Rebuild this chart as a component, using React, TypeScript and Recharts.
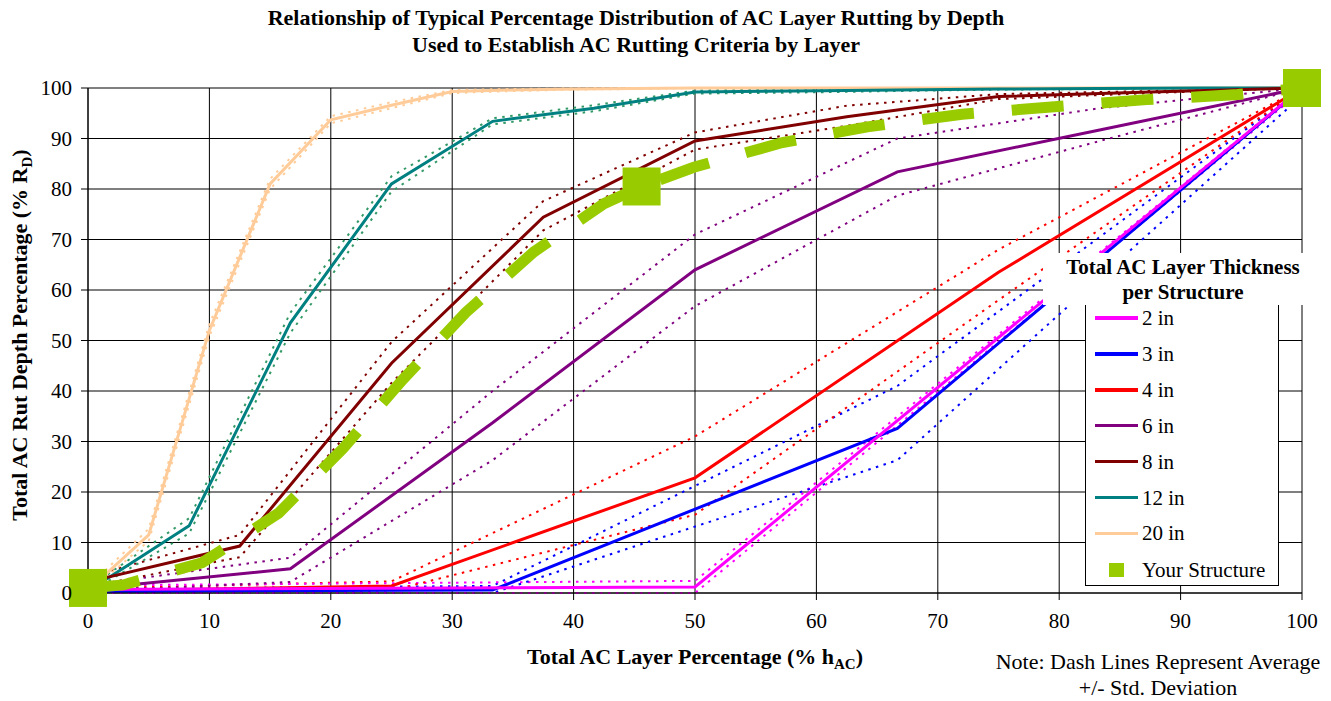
import React from 'react';
import { LineChart, Line, XAxis, YAxis, CartesianGrid, Label } from 'recharts';

const FONT = '"Liberation Serif", "Times New Roman", Times, serif';
const GREEN = '#99CC00';

const X_TICKS = [0, 10, 20, 30, 40, 50, 60, 70, 80, 90, 100];
const Y_TICKS = [0, 10, 20, 30, 40, 50, 60, 70, 80, 90, 100];

// 2 in
const X_2IN = [0, 50, 100];
const AVG_2IN = [0.7, 1.2, 100];
const HI_2IN = [1.5, 2.4, 100];
const LO_2IN = [0, 0, 99.5];

// 3 in
const X_3IN = [0, 33.33, 66.67, 100];
const AVG_3IN = [0.3, 0.6, 32.6, 100];
const HI_3IN = [0.8, 1.4, 41, 100];
const LO_3IN = [0, 0, 26.3, 98.5];

// 4 in
const X_4IN = [0, 25, 50, 75, 100];
const AVG_4IN = [0.4, 1.4, 22.8, 63.5, 100];
const HI_4IN = [0.9, 2.3, 31, 68, 100];
const LO_4IN = [0, 0.5, 15.5, 58, 100];

// 6 in
const X_6IN = [0, 16.67, 33.33, 50, 66.67, 83.33, 100];
const AVG_6IN = [0.8, 4.8, 33.7, 64, 83.4, 91.7, 100];
const HI_6IN = [1.5, 7, 40, 71, 90, 96, 100];
const LO_6IN = [0.3, 2.2, 26.3, 56.8, 78.7, 89.5, 100];

// 8 in
const X_8IN = [0, 12.5, 25, 37.5, 50, 62.5, 75, 87.5, 100];
const AVG_8IN = [2.2, 9.3, 45.5, 74.4, 89.5, 94.3, 98.3, 99.2, 100];
const HI_8IN = [3.2, 11.5, 49.7, 77.6, 91.2, 96.5, 98.8, 99.4, 100];
const LO_8IN = [1.2, 7.1, 41.6, 71.8, 87.8, 92.5, 97.8, 99, 100];

// 12 in
const X_12IN = [0, 8.33, 16.67, 25, 33.33, 41.67, 50, 58.33, 66.67, 75, 83.33, 91.67, 100];
const AVG_12IN = [0.4, 13.3, 53.5, 81, 93.4, 96, 99.2, 99.4, 99.6, 99.8, 99.9, 100, 100];
const HI_12IN = [1, 14.8, 55.5, 82.5, 94, 96.6, 99.5, 99.7, 99.8, 99.9, 100, 100, 100];
const LO_12IN = [0, 11.8, 51.5, 79.5, 92.8, 95.4, 98.9, 99.1, 99.4, 99.7, 99.8, 100, 100];

// 20 in
const X_20IN = [0, 5, 10, 15, 20, 25, 30, 35, 40, 45, 50, 60, 70, 80, 90, 100];
const AVG_20IN = [0.5, 11.5, 52, 81, 93.7, 96.6, 99.3, 99.6, 99.8, 99.9, 100, 100, 100, 100, 100, 100];
const HI_20IN = [1.2, 12.7, 53.2, 82, 94.4, 97.2, 99.6, 99.8, 99.9, 100, 100, 100, 100, 100, 100, 100];
const LO_20IN = [0, 10.3, 50.8, 80, 93, 96, 99, 99.4, 99.7, 99.8, 100, 100, 100, 100, 100, 100];

// Your structure
const YOUR_X = [0, 2.9, 9.4, 15.7, 21, 25.9, 31.1, 36.7, 42.5, 45.6, 49.9, 57.2, 64.2, 72, 79.6, 87.2, 94.7, 100];
const YOUR_Y = [1, 1.6, 6, 15.8, 28.6, 42.2, 55.5, 67.5, 77.1, 80.5, 84.3, 89.2, 92.3, 94.8, 96.3, 97.7, 98.7, 100];
const YOUR_MARK_X = [0, 45.6, 100];
const YOUR_MARK_Y = [1, 80.5, 100];

const LEGEND_LABELS = ['2 in', '3 in', '4 in', '6 in', '8 in', '12 in', '20 in'];
const MEAN_COLORS = ['#FF00FF', '#0000FF', '#FF0000', '#800080', '#800000', '#008080', '#FFCC99'];
const DOT_COLORS = ['#FF00FF', '#0000FF', '#FF0000', '#800080', '#800000', '#339966', '#FFCC99'];

const SERIES = [
  { x: X_2IN, avg: AVG_2IN, hi: HI_2IN, lo: LO_2IN },
  { x: X_3IN, avg: AVG_3IN, hi: HI_3IN, lo: LO_3IN },
  { x: X_4IN, avg: AVG_4IN, hi: HI_4IN, lo: LO_4IN },
  { x: X_6IN, avg: AVG_6IN, hi: HI_6IN, lo: LO_6IN },
  { x: X_8IN, avg: AVG_8IN, hi: HI_8IN, lo: LO_8IN },
  { x: X_12IN, avg: AVG_12IN, hi: HI_12IN, lo: LO_12IN },
  { x: X_20IN, avg: AVG_20IN, hi: HI_20IN, lo: LO_20IN },
];

const pts = (xs: number[], ys: number[]) => xs.map((x, i) => ({ x, y: ys[i] }));

const renderSquare = (p: any) => (
  <rect key={`sq-${p.index}`} x={p.cx - 19} y={p.cy - 19} width={38} height={38} fill={GREEN} />
);

export default function App() {
  const order = [6, 5, 4, 3, 2, 1, 0];
  return (
    <div style={{ position: 'absolute', left: 0, top: 0, width: 1331, height: 701, background: '#fff', fontFamily: FONT }}>
      <div
        style={{
          position: 'absolute', left: 0, top: 4, width: 1272, textAlign: 'center',
          fontWeight: 'bold', fontSize: 22, lineHeight: '27px', color: '#000',
        }}
      >
        <div>Relationship of Typical Percentage Distribution of AC Layer Rutting by Depth</div>
        <div>Used to Establish AC Rutting Criteria by Layer</div>
      </div>

      <LineChart width={1331} height={701} margin={{ top: 88, right: 29, bottom: 78, left: 30 }}>
        <CartesianGrid stroke="#000" strokeWidth={1} />
        <XAxis
          type="number"
          dataKey="x"
          domain={[0, 100]}
          ticks={X_TICKS}
          interval={0}
          height={30}
          tickSize={7}
          tickMargin={13}
          axisLine={{ stroke: '#000' }}
          tickLine={{ stroke: '#000' }}
          tick={{ fill: '#000', fontSize: 21, fontFamily: FONT }}
        >
          <Label
            content={() => (
              <text x={695} y={664} textAnchor="middle" fontFamily={FONT} fontWeight="bold" fontSize={22} fill="#000">
                Total AC Layer Percentage (% h
                <tspan dy={5} fontSize={15}>AC</tspan>
                <tspan dy={-5}>)</tspan>
              </text>
            )}
          />
        </XAxis>
        <YAxis
          type="number"
          domain={[0, 100]}
          ticks={Y_TICKS}
          interval={0}
          width={58}
          tickSize={7}
          tickMargin={9}
          axisLine={{ stroke: '#000' }}
          tickLine={{ stroke: '#000' }}
          tick={{ fill: '#000', fontSize: 21, fontFamily: FONT }}
        >
          <Label
            content={() => (
              <text transform="translate(27,335) rotate(-90)" textAnchor="middle" fontFamily={FONT} fontWeight="bold" fontSize={22} fill="#000">
                Total AC Rut Depth Percentage (% R
                <tspan dy={5} fontSize={15}>D</tspan>
                <tspan dy={-5}>)</tspan>
              </text>
            )}
          />
        </YAxis>

        {order.map((i) => (
          <Line
            key={`hi-${i}`}
            data={pts(SERIES[i].x, SERIES[i].hi)}
            dataKey="y"
            type="linear"
            stroke={DOT_COLORS[i]}
            strokeWidth={2}
            strokeDasharray="2.5 5.5"
            dot={false}
            activeDot={false}
            legendType="none"
            isAnimationActive={false}
          />
        ))}
        {order.map((i) => (
          <Line
            key={`lo-${i}`}
            data={pts(SERIES[i].x, SERIES[i].lo)}
            dataKey="y"
            type="linear"
            stroke={DOT_COLORS[i]}
            strokeWidth={2}
            strokeDasharray="2.5 5.5"
            dot={false}
            activeDot={false}
            legendType="none"
            isAnimationActive={false}
          />
        ))}
        {order.map((i) => (
          <Line
            key={`avg-${i}`}
            name={LEGEND_LABELS[i]}
            data={pts(SERIES[i].x, SERIES[i].avg)}
            dataKey="y"
            type="linear"
            stroke={MEAN_COLORS[i]}
            strokeWidth={3}
            dot={false}
            activeDot={false}
            isAnimationActive={false}
          />
        ))}
        <Line
          name="Your Structure curve"
          data={pts(YOUR_X, YOUR_Y)}
          dataKey="y"
          type="linear"
          stroke={GREEN}
          strokeWidth={11}
          strokeDasharray="52 38"
          strokeLinecap="butt"
          dot={false}
          activeDot={false}
          legendType="none"
          isAnimationActive={false}
        />
        <Line
          name="Your Structure"
          data={pts(YOUR_MARK_X, YOUR_MARK_Y)}
          dataKey="y"
          type="linear"
          stroke="none"
          dot={renderSquare}
          activeDot={false}
          isAnimationActive={false}
        />
      </LineChart>

      {/* Legend title */}
      <div
        style={{
          position: 'absolute', left: 1043, top: 253, width: 260, height: 52, background: '#fff',
          textAlign: 'center', fontWeight: 'bold', fontSize: 21, lineHeight: '25px', color: '#000',
          paddingTop: 2, paddingLeft: 20, boxSizing: 'border-box', whiteSpace: 'nowrap',
        }}
      >
        <div>Total AC Layer Thickness</div>
        <div>per Structure</div>
      </div>
      {/* Legend box */}
      <div
        style={{
          position: 'absolute', left: 1085, top: 305, width: 194, height: 281, background: '#fff',
          borderLeft: '1px solid #000', borderRight: '1px solid #000', borderBottom: '1px solid #000',
          boxSizing: 'border-box',
        }}
      />
      {LEGEND_LABELS.map((lab, i) => {
        const cy = 318 + i * 35.9;
        return (
          <React.Fragment key={lab}>
            <div style={{ position: 'absolute', left: 1095, top: cy - 1.75, width: 43, height: 3.5, background: MEAN_COLORS[i] }} />
            <div style={{ position: 'absolute', left: 1142, top: cy - 13, height: 26, lineHeight: '26px', fontSize: 21, color: '#000', whiteSpace: 'nowrap' }}>
              {lab}
            </div>
          </React.Fragment>
        );
      })}
      <div style={{ position: 'absolute', left: 1109, top: 563, width: 15, height: 14, background: GREEN }} />
      <div style={{ position: 'absolute', left: 1142, top: 569.5 - 13, height: 26, lineHeight: '26px', fontSize: 21, color: '#000', whiteSpace: 'nowrap' }}>
        Your Structure
      </div>

      {/* Note */}
      <div
        style={{
          position: 'absolute', left: 958, top: 649, width: 400, textAlign: 'center',
          fontSize: 22, lineHeight: '26px', color: '#000',
        }}
      >
        <div>Note: Dash Lines Represent Average</div>
        <div>+/- Std. Deviation</div>
      </div>
    </div>
  );
}
